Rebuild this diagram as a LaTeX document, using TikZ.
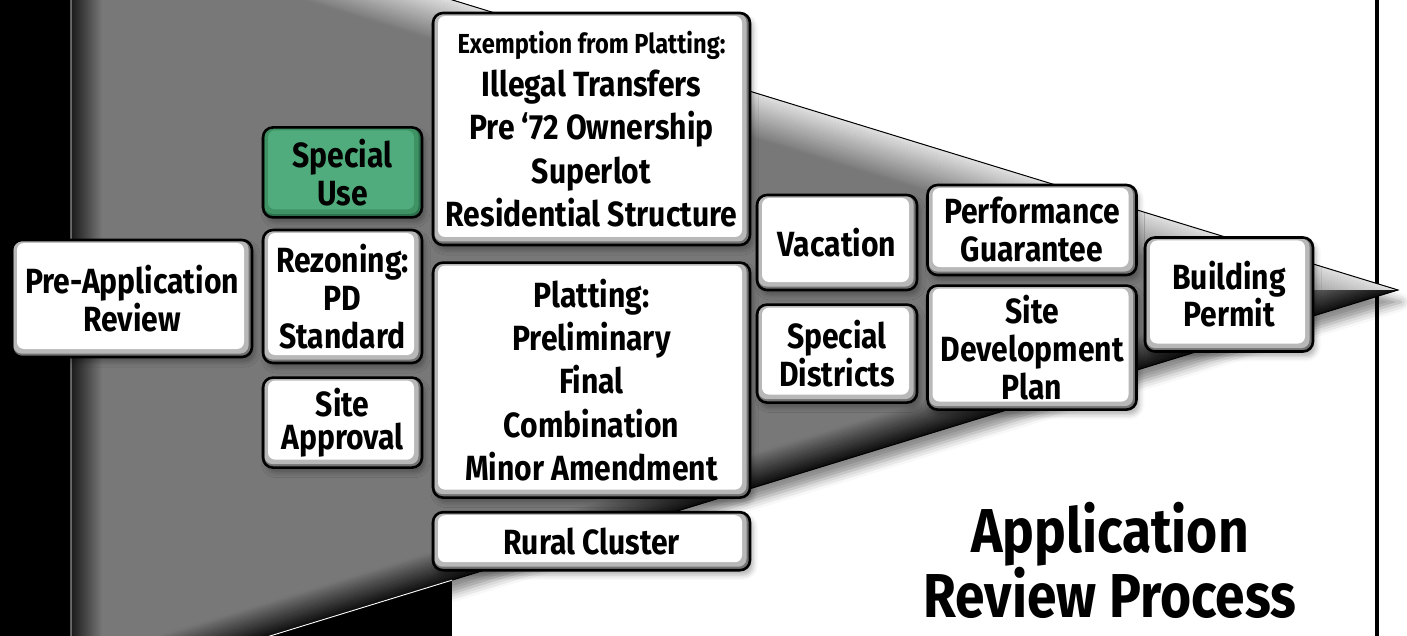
\documentclass[tikz,border=0pt]{standalone}
\usepackage{fontspec}
\setmainfont{Fira Sans}[FakeStretch=0.86]
\usetikzlibrary{positioning,shadows.blur}

\definecolor{funnelgray}{RGB}{120,120,120}
\definecolor{useface}{RGB}{80,172,124}
\definecolor{usemid}{RGB}{62,146,100}
\definecolor{usebevel}{RGB}{44,112,76}

% inner bevel and face of a stage button
\newcommand{\bevelface}[2]{%
  \fill[#1, rounded corners=8pt]
    ([xshift=1.5pt, yshift=-1pt]path picture bounding box.north west) rectangle
    ([xshift=-3.5pt, yshift=3.5pt]path picture bounding box.south east);
  \fill[#2, rounded corners=7pt]
    ([xshift=5pt, yshift=-3pt]path picture bounding box.north west) rectangle
    ([xshift=-8pt, yshift=8pt]path picture bounding box.south east);
}

\begin{document}
\begin{tikzpicture}[
  x=1pt, y=-1pt,
  font=\bfseries\fontsize{35}{38}\selectfont,
  stage/.style={draw=black, line width=2.6pt, rounded corners=10pt,
    fill=black!55, inner sep=0pt, align=center,
    blur shadow={shadow xshift=3pt, shadow yshift=-5pt,
                 shadow blur radius=5pt, shadow opacity=30},
    path picture={\bevelface{black!28}{white}}},
  special/.style={stage, fill=usebevel, path picture={\bevelface{usemid}{useface}}},
  tight/.style={font=\bfseries\fontsize{35}{33}\selectfont},
  list/.style={font=\bfseries\fontsize{35}{43.3}\selectfont}
]
\useasboundingbox (0,0) rectangle (1407,636);
\clip (0,0) rectangle (1407,636);

% backdrop: black panel on the left, rule on the right
\fill[black] (0,0) rectangle (452,636);
\draw[line width=4pt] (1377,0) -- (1377,636);

% the funnel (edges have slope 0.307 about the axis y=290)
\def\slope{0.307}
\coordinate (tip)  at (1398,290);
\coordinate (ftop) at (71,-117);
\coordinate (fbot) at (71,697);
\fill[funnelgray, blur shadow={shadow xshift=3pt, shadow yshift=-12pt,
    shadow blur radius=9pt, shadow opacity=45}]
  (ftop) -- (tip) -- (fbot) -- cycle;
\begin{scope}
  \clip (ftop) -- (tip) -- (fbot) -- cycle;
  % light rim along the upper edge, cut at the axis
  \foreach \k in {0,...,23}{
    \pgfmathsetmacro{\va}{47*\k/24}
    \pgfmathsetmacro{\vb}{47*(\k+1)/24+0.4}
    \pgfmathsetmacro{\lit}{int(78*(1-(\k+0.5)/24))}
    \fill[white!\lit!funnelgray] (71,{-117+\va}) -- ({1398-\va/\slope},290)
      -- ({1398-\vb/\slope},290) -- (71,{-117+\vb}) -- cycle;
  }
  % dark rim along the lower edge
  \foreach \k in {0,...,19}{
    \pgfmathsetmacro{\va}{35*\k/20}
    \pgfmathsetmacro{\vb}{35*(\k+1)/20+0.4}
    \pgfmathsetmacro{\drk}{int(90*(1-(\k+0.5)/20))}
    \fill[black!\drk!funnelgray] (71,{697-\va}) -- ({1398-\va/\slope},290)
      -- ({1398-\vb/\slope},290) -- (71,{697-\vb}) -- cycle;
  }
  \shade[left color=black!90, right color=funnelgray] (71,0) rectangle (102,636);
\end{scope}
\draw[line width=1pt] (ftop) -- (tip) -- (fbot);
\begin{scope}
  \clip (0,0) rectangle (452,636);
  \draw[white, line width=0.9pt] (ftop) -- (fbot) -- (tip);
\end{scope}

% stages
\node[stage, minimum width=240pt, minimum height=117pt] (pre) at (132,298.5)
  {Pre-Application\\Review};
\node[stage, minimum width=159pt, minimum height=133pt] (rezon) at (342.5,296.5)
  {Rezoning:\\PD\\Standard};
\node[special, minimum width=159pt, minimum height=90pt, above=10pt of rezon] (spuse)
  {Special\\Use};
\node[stage, tight, minimum width=159pt, minimum height=90pt, below=12pt of rezon] (siteap)
  {Site\\Approval};

\node[stage, list, minimum width=317pt, minimum height=232pt] (exempt) at (591.5,129)
  {{\fontsize{27.5}{30}\selectfont Exemption from Platting:}\\Illegal Transfers\\
   Pre ‘72 Ownership\\Superlot\\Residential Structure};
\node[stage, list, minimum width=317pt, minimum height=235pt, below=15pt of exempt] (platt)
  {Platting:\\Preliminary\\Final\\Combination\\Minor Amendment};
\node[stage, minimum width=317pt, minimum height=58pt, below=12pt of platt] (rural)
  {Rural Cluster};

\node[stage, minimum width=160pt, minimum height=95pt] (vac) at (837,242.5)
  {Vacation};
\node[stage, minimum width=160pt, minimum height=98pt, below=12pt of vac] (spdist)
  {Special\\Districts};

\node[stage, minimum width=209pt, minimum height=90pt] (perf) at (1032,230)
  {Performance\\Guarantee};
\node[stage, minimum width=209pt, minimum height=124pt, below=8pt of perf] (sdp)
  {Site\\Development\\Plan};

\node[stage, tight, minimum width=168pt, minimum height=114pt] (bldg) at (1229,294.5)
  {Building\\Permit};

\node[font=\bfseries\fontsize{62}{62}\selectfont, align=center, inner sep=0pt,
  anchor=south] (title) at (1110,619) {Application\\Review Process};
\end{tikzpicture}
\end{document}
